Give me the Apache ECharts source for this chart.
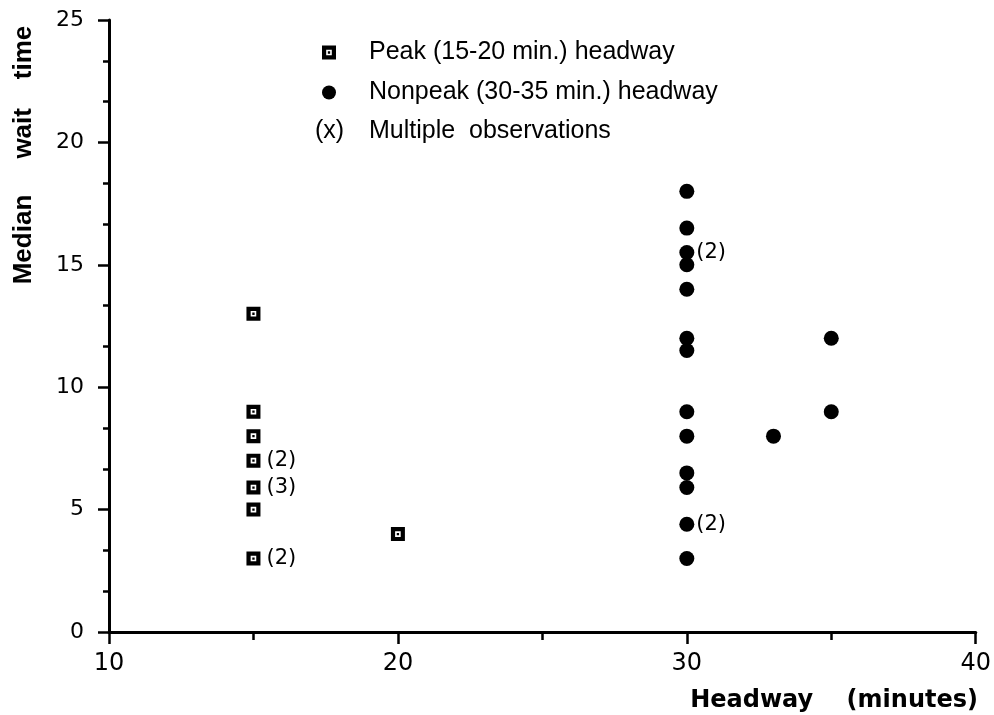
<!DOCTYPE html>
<html>
<head>
<meta charset="utf-8">
<script src="https://cdn.jsdelivr.net/npm/echarts@6/dist/echarts.min.js"></script>
<style>
  html, body { margin: 0; padding: 0; background: #fff; }
  #chart { width: 994px; height: 715px; }
</style>
</head>
<body>
<div id="chart"></div>
<script>
// Peak-period observations (15-20 min. headway)
const peakHeadway = [15, 15, 15, 15, 15, 15, 15, 20];
const peakWait    = [13, 9, 8, 7, 5.9, 5, 3, 4];
const peakCount   = [1, 1, 1, 2, 3, 1, 2, 1];

// Nonpeak observations (30-35 min. headway)
const nonpeakHeadway = [30, 30, 30, 30, 30, 30, 30, 30, 30, 30, 30, 30, 30, 33, 35, 35];
const nonpeakWait    = [18, 16.5, 15.5, 15, 14, 12, 11.5, 9, 8, 6.5, 5.9, 4.4, 3, 8, 12, 9];
const nonpeakCount   = [1, 1, 2, 1, 1, 1, 1, 1, 1, 1, 1, 2, 1, 1, 1, 1];

const xTicks = [10, 20, 30, 40];
const yTicks = [0, 5, 10, 15, 20, 25];

const legendNames = ['Peak (15-20 min.) headway', 'Nonpeak (30-35 min.) headway'];
const multipleNote = ['(x)', 'Multiple  observations'];
const xTitle = 'Headway    (minutes)';
const yTitle = 'Median     wait    time';

// Framed square with a dot in the middle (nonzero winding cuts the ring)
const boxSymbol = 'path://M0,0H12V12H0Z M3.6,3.6V8.4H8.4V3.6Z M5,5H7V7H5Z';

function points(xs, ys, counts) {
  return xs.map((x, i) => ({
    value: [x, ys[i], counts[i]],
    label: { show: counts[i] > 1 }
  }));
}

const countLabel = p => '(' + p.value[2] + ')';
const labelFont = { fontFamily: 'DejaVu Sans', fontSize: 21, color: '#000' };

const chart = echarts.init(document.getElementById('chart'));
chart.setOption({
  backgroundColor: '#fff',
  animation: false,
  grid: { left: 109, right: 18, top: 20, bottom: 83 },
  xAxis: {
    type: 'value',
    min: xTicks[0], max: xTicks[xTicks.length - 1], interval: 10,
    axisLine: { lineStyle: { color: '#000', width: 3 } },
    axisTick: { length: 12, lineStyle: { color: '#000', width: 2.5 } },
    minorTick: { show: true, splitNumber: 2, length: 8, lineStyle: { color: '#000', width: 2.5 } },
    splitLine: { show: false },
    axisLabel: { margin: 20, fontFamily: 'DejaVu Sans', fontSize: 24, color: '#000' }
  },
  yAxis: {
    type: 'value',
    min: yTicks[0], max: yTicks[yTicks.length - 1], interval: 5,
    axisLine: { lineStyle: { color: '#000', width: 3 } },
    axisTick: { length: 11, lineStyle: { color: '#000', width: 2.5 } },
    minorTick: { show: true, splitNumber: 3, length: 6, lineStyle: { color: '#000', width: 2.5 } },
    splitLine: { show: false },
    axisLabel: { margin: 25, fontFamily: 'DejaVu Sans', fontSize: 22, color: '#000' }
  },
  legend: {
    orient: 'vertical',
    left: 322, top: 40,
    padding: 0,
    itemWidth: 14, itemHeight: 14,
    itemGap: 15,
    data: [
      { name: legendNames[0], icon: boxSymbol, itemStyle: { opacity: 1 } },
      { name: legendNames[1], icon: 'circle', itemStyle: { opacity: 1 } }
    ],
    textStyle: {
      fontFamily: 'Liberation Sans', fontSize: 25, lineHeight: 24,
      color: '#000', padding: [0, 0, 0, 28]
    }
  },
  series: [
    {
      name: legendNames[0],
      type: 'scatter',
      symbol: boxSymbol,
      symbolSize: 14,
      itemStyle: { color: '#000', opacity: 1 },
      label: Object.assign({ position: 'right', distance: 6, formatter: countLabel }, labelFont),
      data: points(peakHeadway, peakWait, peakCount)
    },
    {
      name: legendNames[1],
      type: 'scatter',
      symbol: 'circle',
      symbolSize: 15,
      itemStyle: { color: '#000', opacity: 1 },
      label: Object.assign({ position: 'right', distance: 2, formatter: countLabel }, labelFont),
      data: points(nonpeakHeadway, nonpeakWait, nonpeakCount)
    }
  ],
  graphic: [
    {
      type: 'text', x: 315, y: 131,
      style: { text: multipleNote[0], fill: '#000', font: '25px "Liberation Sans"',
               textAlign: 'left', textVerticalAlign: 'middle', align: 'left', verticalAlign: 'middle' }
    },
    {
      type: 'text', x: 369, y: 131,
      style: { text: multipleNote[1], fill: '#000', font: '25px "Liberation Sans"',
               textAlign: 'left', textVerticalAlign: 'middle', align: 'left', verticalAlign: 'middle' }
    },
    {
      type: 'text', x: 978, y: 701,
      style: { text: xTitle, fill: '#000', font: 'bold 24px "DejaVu Sans"',
               textAlign: 'right', textVerticalAlign: 'middle', align: 'right', verticalAlign: 'middle' }
    },
    {
      type: 'text', x: 24, y: 155, rotation: Math.PI / 2,
      style: { text: yTitle, fill: '#000', font: 'bold 26px "Liberation Sans"',
               textAlign: 'center', textVerticalAlign: 'middle', align: 'center', verticalAlign: 'middle' }
    }
  ]
});
</script>
</body>
</html>
